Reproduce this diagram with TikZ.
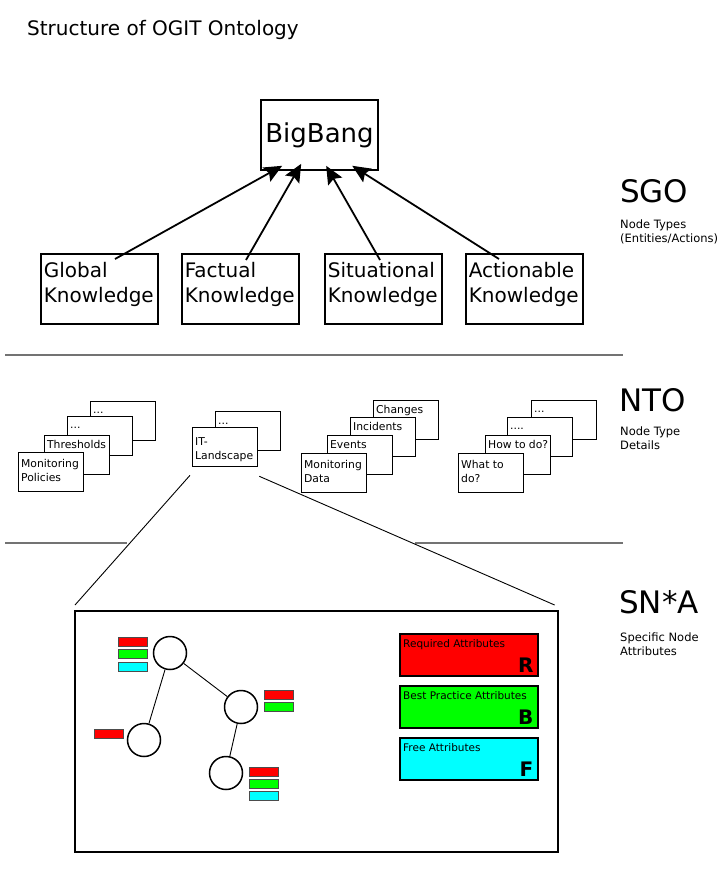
\documentclass[tikz,border=0pt]{standalone}
\usepackage{fontspec}
\setmainfont{DejaVu Sans}
\usetikzlibrary{arrows.meta,calc}
\definecolor{fred}{RGB}{255,0,0}
\definecolor{fgreen}{RGB}{0,255,0}
\definecolor{fcyan}{RGB}{0,255,255}
\newcommand\ntxt[2]{\parbox[t][35pt][t]{60pt}{\raggedright\rule{0pt}{#1pt}#2}}
\begin{document}
\begin{tikzpicture}[x=1pt,y=-1pt,
  kbox/.style={draw, line width=1.6pt, minimum height=70pt, text width=111pt, inner xsep=3pt, align=left, anchor=north west, text depth=37pt, font=\fontsize{20}{25}\selectfont},
  arr/.style={line width=1.8pt, -{Stealth[length=18pt,width=16pt,inset=3pt]}},
  sepline/.style={draw=black!55, line width=1.8pt},
  ntob/.style={draw, line width=1.3pt, fill=white, anchor=north west, inner xsep=2.5pt, inner ysep=2pt, font=\fontsize{10.8}{14}\selectfont},
  big/.style={font=\fontsize{31}{34}\selectfont, anchor=base west, inner sep=0pt},
  small/.style={font=\fontsize{11.5}{14}\selectfont, anchor=base west, inner sep=0pt},
  circ/.style={draw, circle, line width=1.5pt, minimum size=33pt, inner sep=0pt},
  bar/.style={draw=black!70, line width=0.6pt, minimum width=29pt, minimum height=9pt, inner sep=0pt, anchor=north west},
  abox/.style={draw, line width=1.6pt, minimum width=138pt, minimum height=42pt, inner sep=0pt, anchor=north west},
  atxt/.style={font=\fontsize{10.5}{12}\selectfont, anchor=base west, inner sep=0pt},
  aletter/.style={font=\fontsize{20}{22}\bfseries\selectfont, anchor=south east, inner sep=0pt},
  thinl/.style={line width=0.9pt}
]
\useasboundingbox (0,0) rectangle (722,885);

% title
\node[font=\fontsize{20}{22}\selectfont, anchor=base west, inner sep=0pt] (title) at (27,36) {Structure of OGIT Ontology};

% SGO level
\node[draw, line width=1.6pt, minimum width=117pt, minimum height=70pt, font=\fontsize{26}{30}\selectfont] (bb) at (319.5,135) {BigBang};
\node[kbox] (global) at (40,253) {Global\\Knowledge};
\node[kbox] (factual) at (181,253) {Factual\\Knowledge};
\node[kbox] (situ) at (324,253) {Situational\\Knowledge};
\node[kbox] (action) at (465,253) {Actionable\\Knowledge};

\coordinate (gS) at ($(global.north west)+(75,6)$);
\coordinate (fS) at ($(factual.north west)+(65,7)$);
\coordinate (sS) at ($(situ.north west)+(56,7)$);
\coordinate (aS) at ($(action.north west)+(34,6)$);
\coordinate (t1) at ($(bb.south west)+(22,-5)$);
\coordinate (t2) at ($(bb.south west)+(41,-7)$);
\coordinate (t3) at ($(bb.south west)+(66,-5)$);
\coordinate (t4) at ($(bb.south west)+(92,-5)$);
\draw[arr] (gS) -- (t1);
\draw[arr] (fS) -- (t2);
\draw[arr] (sS) -- (t3);
\draw[arr] (aS) -- (t4);

% right labels
\node[big] (sgo) at (620,203) {SGO};
\node[small] (sgod1) at (620,229) {Node Types};
\node[small] (sgod2) at (620,243) {(Entities/Actions)};
\node[big] (nto) at (619,411) {NTO};
\node[small] (ntod1) at (620,435) {Node Type};
\node[small] (ntod2) at (620,449) {Details};
\node[big] (sna) at (619,613) {SN*A};
\node[small] (snad1) at (620,641) {Specific Node};
\node[small] (snad2) at (620,655) {Attributes};

% separators
\draw[sepline] (5,355) -- (623,355);
\draw[sepline] (5,543) -- (127,543);
\draw[sepline] (415,543) -- (623,543);

% NTO stacks
\node[ntob] (a4) at (90,401) {\ntxt{10}{...}};
\node[ntob] (a3) at (67,416) {\ntxt{10}{...}};
\node[ntob] (a2) at (44,435) {\ntxt{11}{Thresholds}};
\node[ntob] (a1) at (18,452) {\ntxt{13}{Monitoring\\Policies}};

\node[ntob] (it2) at (215,411) {\ntxt{11}{...}};
\node[ntob] (it) at (192,427) {\ntxt{16}{IT-\\Landscape}};

\node[ntob] (c4) at (373,400) {\ntxt{10.5}{Changes}};
\node[ntob] (c3) at (350,417) {\ntxt{10.5}{Incidents}};
\node[ntob] (c2) at (327,435) {\ntxt{10.5}{Events}};
\node[ntob] (c1) at (301,453) {\ntxt{13}{Monitoring\\Data}};

\node[ntob] (d4) at (531,400) {\ntxt{10}{...}};
\node[ntob] (d3) at (507,417) {\ntxt{10}{....}};
\node[ntob] (d2) at (485,435) {\ntxt{10.5}{How to do?}};
\node[ntob] (d1) at (458,453) {\ntxt{13}{What to\\do?}};

% SN*A box
\node[draw, line width=1.6pt, minimum width=483pt, minimum height=241pt, inner sep=0pt, anchor=north west] (snabox) at (74,610) {};
\draw[thinl] ($(it.south west)+(-2,8)$) -- ($(snabox.north west)+(1,-5)$);
\draw[thinl] ($(it.south east)+(1,9)$) -- ($(snabox.north east)+(-4,-5)$);

% tree
\node[circ] (n1) at (170,653) {};
\node[circ] (n2) at (241,707) {};
\node[circ] (n3) at (144,740) {};
\node[circ] (n4) at (226,773) {};
\draw[thinl] (n1) -- (n2);
\draw[thinl] (n1) -- (n3);
\draw[thinl] (n2) -- (n4);

\node[bar, fill=fred] (b1r) at (118,637) {};
\node[bar, fill=fgreen] (b1g) at (118,649) {};
\node[bar, fill=fcyan] (b1c) at (118,662) {};
\node[bar, fill=fred] (b2r) at (264,690) {};
\node[bar, fill=fgreen] (b2g) at (264,702) {};
\node[bar, fill=fred] (b3r) at (94,729) {};
\node[bar, fill=fred] (b4r) at (249,767) {};
\node[bar, fill=fgreen] (b4g) at (249,779) {};
\node[bar, fill=fcyan] (b4c) at (249,791) {};

% attribute boxes
\node[abox, fill=fred] (ra) at (399,633) {};
\node[abox, fill=fgreen] (ba) at (399,685) {};
\node[abox, fill=fcyan] (fa) at (399,737) {};
\node[atxt] (rat) at ($(ra.north west)+(4,14)$) {Required Attributes};
\node[atxt] (bat) at ($(ba.north west)+(4,14)$) {Best Practice Attributes};
\node[atxt] (fat) at ($(fa.north west)+(4,14)$) {Free Attributes};
\node[aletter] (rl) at ($(ra.south east)+(-5,-4)$) {R};
\node[aletter] (bl) at ($(ba.south east)+(-5,-4)$) {B};
\node[aletter] (fl) at ($(fa.south east)+(-5,-4)$) {F};
\end{tikzpicture}
\end{document}
